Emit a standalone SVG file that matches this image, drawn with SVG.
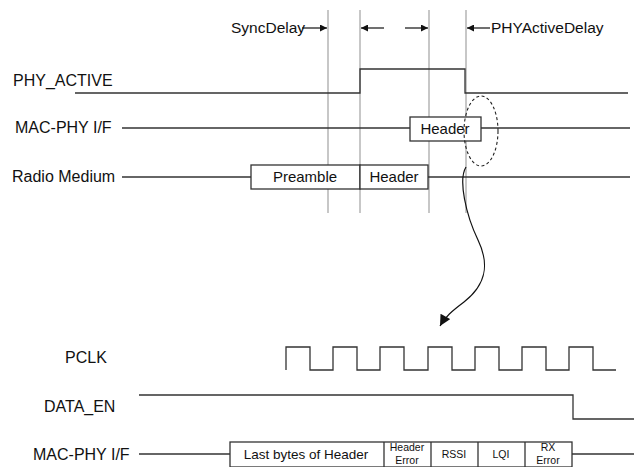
<svg xmlns="http://www.w3.org/2000/svg" width="634" height="467" viewBox="0 0 634 467">
<defs>
<style>
text{font-family:"Liberation Sans",Arial,sans-serif;fill:#111}
.lbl{font-size:16px}
.top{font-size:15.5px}
.box{font-size:15px;text-anchor:middle}
.sm{font-size:13.5px;text-anchor:middle}
.xs{font-size:10.5px;text-anchor:middle}
.sig{fill:none;stroke:#333;stroke-width:1.3}
.grid{fill:none;stroke:#b4b4b4;stroke-width:1.5}
.bx{fill:#fff;stroke:#333;stroke-width:1.3}
.arr{fill:none;stroke:#111;stroke-width:1.2}
</style>
<marker id="ah" viewBox="0 0 10 10" refX="10" refY="5" markerWidth="9" markerHeight="7" markerUnits="userSpaceOnUse" orient="auto"><path d="M0,0 L10,5 L0,10 z" fill="#111"/></marker>
<marker id="ah2" viewBox="0 0 10 10" refX="10" refY="5" markerWidth="13" markerHeight="11" markerUnits="userSpaceOnUse" orient="auto"><path d="M0,0 L10,5 L0,10 z" fill="#111"/></marker>
</defs>

<g id="gridlines">
<line class="grid" x1="328" y1="10" x2="328" y2="213"/>
<line class="grid" x1="360" y1="10" x2="360" y2="213"/>
<line class="grid" x1="429" y1="10" x2="429" y2="213"/>
<line class="grid" x1="466" y1="10" x2="466" y2="213"/>
</g>

<g id="sync-delay">
<text class="top" x="231" y="33">SyncDelay</text>
<line class="arr" x1="302" y1="28" x2="327" y2="28" marker-end="url(#ah)"/>
</g>
<g id="mid-delay">
<line class="arr" x1="384" y1="28" x2="361" y2="28" marker-end="url(#ah)"/>
<line class="arr" x1="405" y1="28" x2="428" y2="28" marker-end="url(#ah)"/>
</g>
<g id="phy-active-delay">
<line class="arr" x1="490" y1="28" x2="467" y2="28" marker-end="url(#ah)"/>
<text class="top" x="491" y="33">PHYActiveDelay</text>
</g>

<g id="phy-active">
<text class="lbl" x="13" y="86">PHY_ACTIVE</text>
<polyline class="sig" points="75,93 360,93 360,69 465,69 465,93 628,93"/>
</g>

<g id="mac-phy-top">
<text class="lbl" x="15" y="133">MAC-PHY I/F</text>
<line class="sig" x1="122" y1="128" x2="630" y2="128"/>
<rect class="bx" x="410" y="117" width="71" height="24"/>
<text class="box" x="445" y="134">Header</text>
</g>

<g id="radio-medium">
<text class="lbl" x="12" y="182">Radio Medium</text>
<line class="sig" x1="122" y1="177" x2="630" y2="177"/>
<rect class="bx" x="251" y="165" width="109" height="24"/>
<text class="box" x="305" y="182">Preamble</text>
<rect class="bx" x="360" y="165" width="68" height="24"/>
<text class="box" x="394" y="182">Header</text>
</g>

<g id="zoom-callout">
<ellipse cx="481" cy="131" rx="17" ry="35" fill="none" stroke="#222" stroke-width="1.1" stroke-dasharray="3,2.5"/>
</g>

<g id="connectors">
<path class="arr" d="M466,167 C458,180 466,215 478,240 C490,265 486,285 464,302 C452,311 445,317 440,326" marker-end="url(#ah2)"/>
</g>

<g id="pclk">
<text class="lbl" x="65" y="363">PCLK</text>
<polyline class="sig" points="286,370 286,347 310,347 310,370 333,370 333,347 357,347 357,370 380,370 380,347 404,347 404,370 428,370 428,347 452,347 452,370 475,370 475,347 499,347 499,370 522,370 522,347 546,347 546,370 569,370 569,347 593,347 593,370 616,370"/>
</g>

<g id="data-en">
<text class="lbl" x="44" y="412">DATA_EN</text>
<polyline class="sig" points="139,395 573,395 573,419 634,419"/>
</g>

<g id="mac-phy-bottom">
<text class="lbl" x="33" y="460">MAC-PHY I/F</text>
<line class="sig" x1="139" y1="454" x2="230" y2="454"/>
<line class="sig" x1="572" y1="454" x2="634" y2="454"/>
<rect class="bx" x="230" y="442" width="342" height="25"/>
<line class="sig" x1="384" y1="442" x2="384" y2="467"/>
<line class="sig" x1="431" y1="442" x2="431" y2="467"/>
<line class="sig" x1="478" y1="442" x2="478" y2="467"/>
<line class="sig" x1="525" y1="442" x2="525" y2="467"/>
<text class="sm" x="306" y="459">Last bytes of Header</text>
<text class="xs" x="407" y="451">Header</text>
<text class="xs" x="407" y="464">Error</text>
<text class="xs" x="454" y="458">RSSI</text>
<text class="xs" x="501" y="458">LQI</text>
<text class="xs" x="548" y="451">RX</text>
<text class="xs" x="548" y="464">Error</text>
</g>
</svg>
